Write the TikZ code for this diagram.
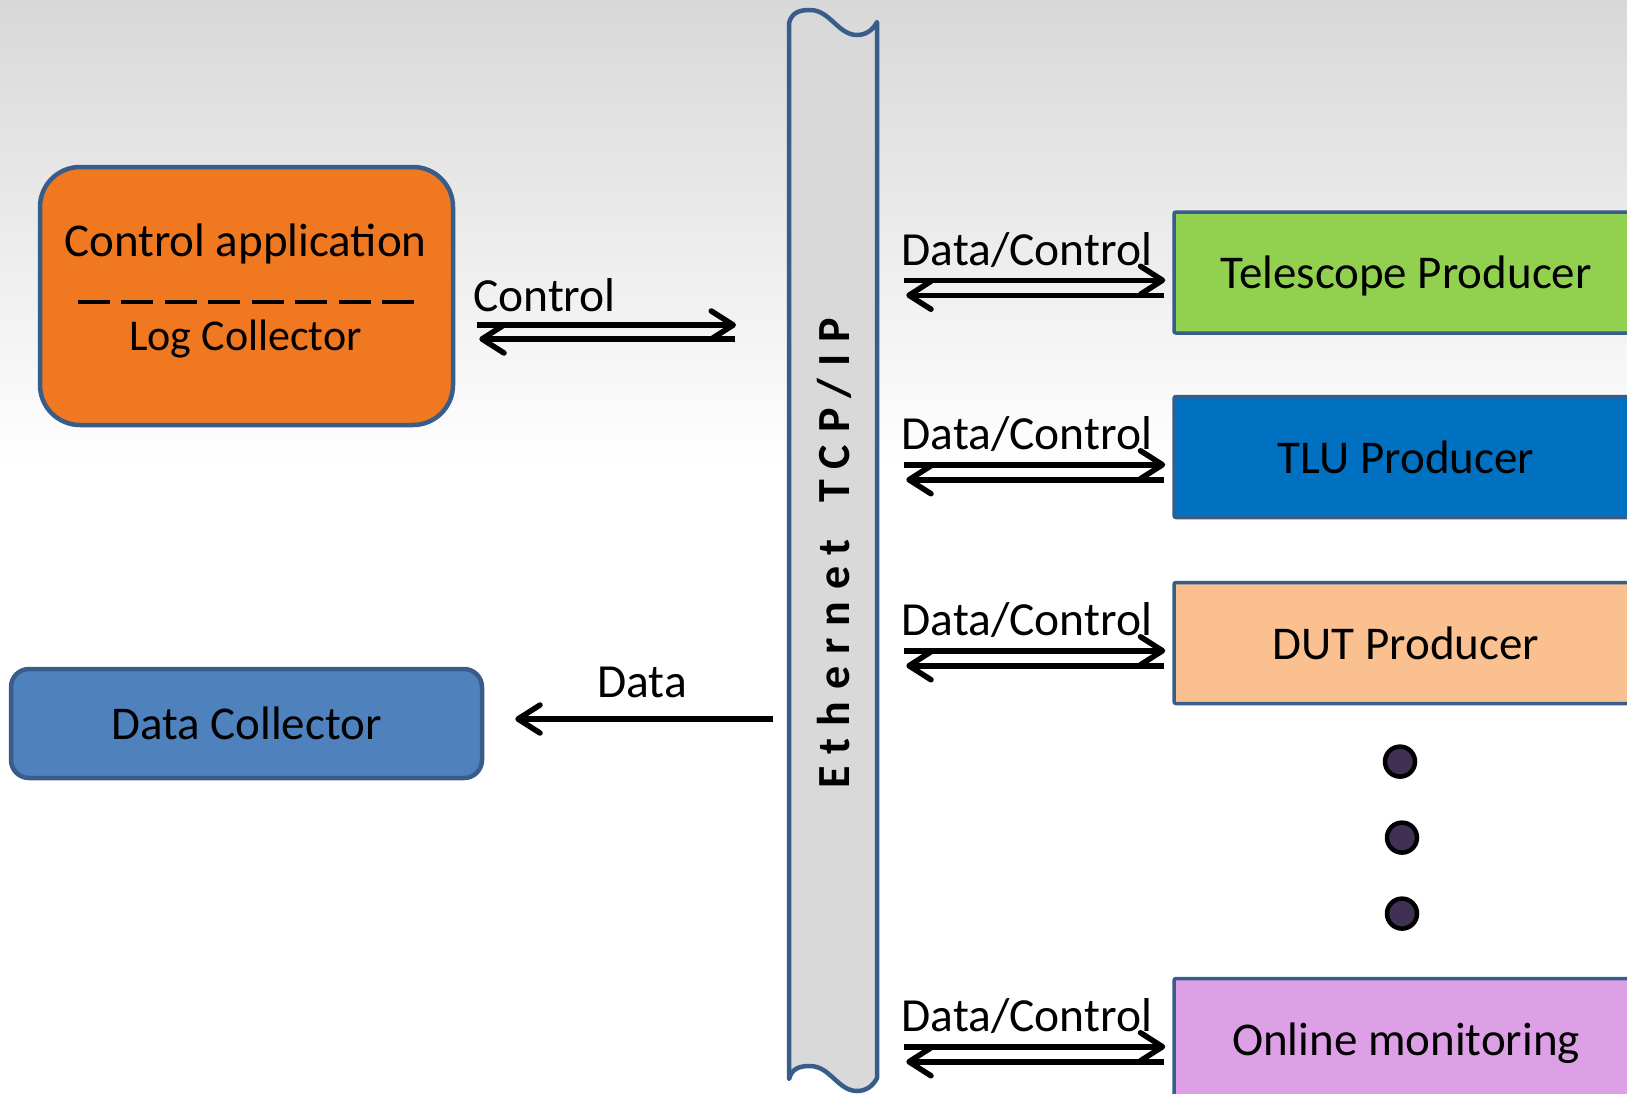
\documentclass[tikz,border=0pt]{standalone}
\usepackage{fontspec}
\setmainfont{Carlito}
\newfontfamily\spacedfont[LetterSpace=26]{Carlito}
\usepackage{tikz}
\usetikzlibrary{arrows.meta,calc,positioning}

\definecolor{edgeblue}{RGB}{56,93,138}
\definecolor{appor}{RGB}{240,120,32}
\definecolor{collblue}{RGB}{79,129,189}
\definecolor{telgreen}{RGB}{146,208,80}
\definecolor{tlublue}{RGB}{0,112,192}
\definecolor{dutpeach}{RGB}{250,192,144}
\definecolor{monpink}{RGB}{221,160,230}
\definecolor{buspanel}{RGB}{217,217,217}
\definecolor{dotpurple}{RGB}{64,49,84}
\definecolor{bgtop}{RGB}{216,216,216}

\newcommand{\boxfont}{\fontsize{47pt}{56pt}\selectfont}
\newcommand{\logfont}{\fontsize{44pt}{52pt}\selectfont}
\newcommand{\labfont}{\fontsize{47.5pt}{56pt}\selectfont}

\begin{document}
\begin{tikzpicture}[x=1pt,y=-1pt]

  \tikzstyle{appnode}=[draw=edgeblue,line width=4.5pt,rectangle,rounded corners=40pt,fill=appor,minimum width=413pt,minimum height=258pt]
  \tikzstyle{collnode}=[draw=edgeblue,line width=4.5pt,rectangle,rounded corners=18pt,fill=collblue,minimum width=471pt,minimum height=109pt,font=\boxfont]
  \tikzstyle{prodnode}=[draw=edgeblue,line width=3.5pt,rectangle,rounded corners=2pt,minimum width=464pt,minimum height=121pt,text depth=0pt,font=\boxfont]
  \tikzstyle{dotnode}=[draw=black,line width=4.5pt,circle,fill=dotpurple,minimum size=30pt,inner sep=0pt,node distance=76pt]
  \tikzstyle{busnode}=[rotate=90,font=\spacedfont\bfseries\fontsize{46pt}{50pt}\selectfont]

  \tikzstyle{pointer}=[draw,line width=5.5pt,-{Straight Barb[length=22pt,width=28pt,round]}]
  \tikzstyle{ptrlab}=[inner sep=0pt,anchor=base west,font=\labfont]
  \tikzstyle{sepline}=[draw,line width=4.5pt,dash pattern=on 32pt off 11.5pt]

  \useasboundingbox (0,0) rectangle (1627,1093);
  \clip (0,0) rectangle (1627,1093);

  % background
  \shade[top color=bgtop,bottom color=white] (0,0) rectangle (1627,470);

  % ethernet bus
  \draw[fill=buspanel,draw=edgeblue,line width=4.5pt,line join=round]
    (789,1079) -- (789,23) .. controls (792,12) and (800,10) .. (810,10)
    .. controls (830,10) and (838,35) .. (857,35)
    .. controls (866,35) and (873,30) .. (877,22) -- (877,1078)
    .. controls (873,1086) and (866,1091) .. (857,1091)
    .. controls (838,1091) and (830,1066) .. (810,1066)
    .. controls (800,1066) and (792,1068) .. (789,1079) -- cycle;
  \node[busnode] (bus) at (834,553) {Ethernet\hspace{14pt} TCP/IP};

  % nodes
  \node[appnode] (ctrl) at (246.5,296) {};
  \node[font=\boxfont,anchor=base] (ctrltxt) at ($(ctrl.north)+(-1,92)$) {Control application};
  \node[font=\logfont,anchor=base] (logtxt) at ($(ctrl.north)+(-1,186)$) {Log Collector};
  \draw[sepline] ($(ctrl.west)+(40,6)$) -- ($(ctrl.east)+(-37,6)$);

  \node[collnode] (dc) at (246.5,723.5) {Data Collector};

  \node[prodnode,fill=telgreen] (tel) at (1406,272.5) {Telescope Producer};
  \node[prodnode,fill=tlublue,node distance=184.5pt] (tlu) [below of=tel] {TLU Producer};
  \node[prodnode,fill=dutpeach,node distance=186pt] (dut) [below of=tlu] {DUT Producer};
  \node[prodnode,fill=monpink,node distance=396pt] (mon) [below of=dut] {Online monitoring};

  \node[dotnode] (d1) at (1400,761.6) {};
  \node[dotnode] (d2) [below of=d1,xshift=2pt] {};
  \node[dotnode] (d3) [below of=d2] {};

  % pointers
  \coordinate (ctrlA) at (736,325);
  \coordinate (ctrlB) at (735,339);
  \draw[pointer,shorten <=22pt] (ctrlA -| ctrl.east) -- (ctrlA);
  \draw[pointer,shorten >=24pt] (ctrlB) -- (ctrlB -| ctrl.east);
  \node[ptrlab] (ctrllab) at (473,311) {Control};

  \coordinate (dataport) at (773,719);
  \draw[pointer,shorten >=31pt] (dataport) -- (dataport -| dc.east);
  \node[ptrlab,anchor=base] (datalab) at (642,697) {Data};

  \foreach \p in {tel,tlu,dut,mon}{
    \coordinate (\p-a) at ($(\p.north west)+(-268,70)$);
    \coordinate (\p-b) at ($(\p.north west)+(-266,85)$);
    \draw[pointer,shorten >=7pt] (\p-a) -- (\p-a -| \p.west);
    \draw[pointer,shorten <=8pt] (\p-b -| \p.west) -- (\p-b);
    \node[ptrlab] (\p-lab) at ([xshift=-3pt,yshift=15pt]\p-a) {Data/Control};
  }

\end{tikzpicture}
\end{document}
